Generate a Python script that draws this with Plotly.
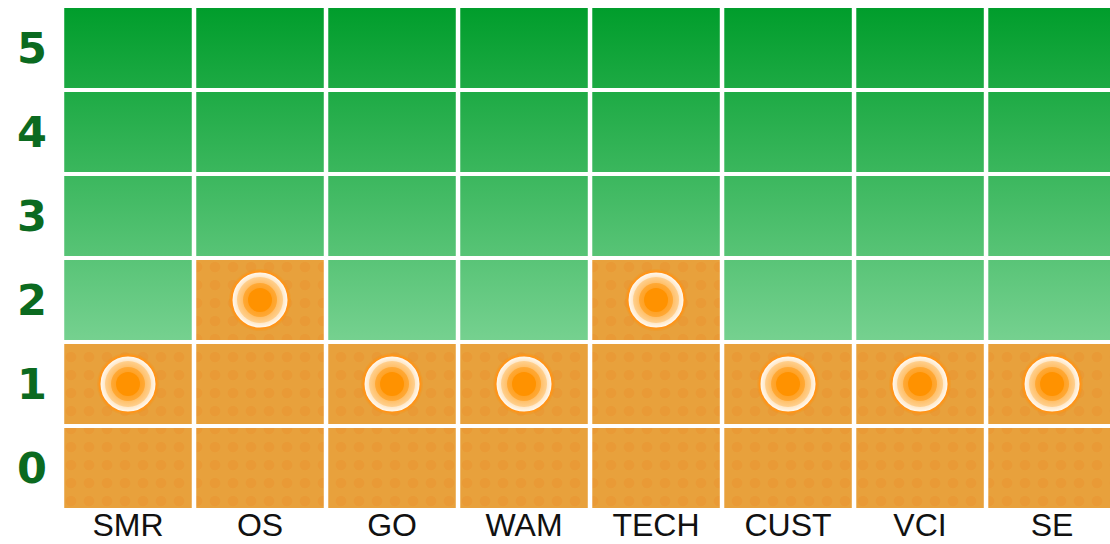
import plotly.graph_objects as go

# ---- data ----
categories = ["SMR", "OS", "GO", "WAM", "TECH", "CUST", "VCI", "SE"]
scores = [1, 2, 1, 1, 2, 1, 1, 1]
levels = [0, 1, 2, 3, 4, 5]
level_labels = ["0", "1", "2", "3", "4", "5"]

# ---- styling ----
HW = 0.483   # half cell width (axis units)
HH = 0.476   # half cell height (axis units)
ORANGE_BG = "#e8a13c"
ORANGE_DOT = "#ea932f"
GREEN_LOW = "#76d190"
GREEN_HIGH = "#009d2b"
DOT_ORANGE = "#ff9200"

x_idx = list(range(len(categories)))

def rect(cx, cy):
    return ([cx - HW, cx + HW, cx + HW, cx - HW, cx - HW, None],
            [cy - HH, cy - HH, cy + HH, cy + HH, cy - HH, None])

ox, oy, gx, gy = [], [], [], []
for i, s in zip(x_idx, scores):
    for lv in levels:
        xs, ys = rect(i, lv)
        if lv <= s:
            ox += xs; oy += ys
        else:
            gx += xs; gy += ys

fig = go.Figure()

fig.add_trace(go.Scatter(
    x=gx, y=gy, mode="lines", fill="toself", line=dict(width=0),
    fillgradient=dict(type="vertical", start=min(levels) + 1.5, stop=max(levels) + 0.5,
                      colorscale=[[0, GREEN_LOW], [1, GREEN_HIGH]]),
    hoverinfo="skip", showlegend=False))

fig.add_trace(go.Scatter(
    x=ox, y=oy, mode="lines", fill="toself", line=dict(width=0),
    fillcolor=ORANGE_BG,
    fillpattern=dict(shape=".", bgcolor=ORANGE_BG, fgcolor=ORANGE_DOT,
                     size=18, solidity=0.28),
    hoverinfo="skip", showlegend=False))

bubble_layers = [
    dict(size=62, color="rgba(255,140,0,0.20)", line=dict(width=0)),
    dict(size=57, color="#fffcf7", gradient=dict(type="radial", color=DOT_ORANGE),
         line=dict(width=2, color="#ff9418")),
    dict(size=46, color="#ffd08f", gradient=dict(type="radial", color=DOT_ORANGE),
         line=dict(width=0)),
    dict(size=34, color="#ffa936", gradient=dict(type="radial", color=DOT_ORANGE),
         line=dict(width=0)),
    dict(size=24, color=DOT_ORANGE, line=dict(width=0)),
]
for mk in bubble_layers:
    fig.add_trace(go.Scatter(x=x_idx, y=scores, mode="markers", marker=mk,
                             hoverinfo="skip", showlegend=False))

fig.update_layout(
    width=1110, height=544,
    margin=dict(l=62, r=0, t=6, b=34),
    paper_bgcolor="white", plot_bgcolor="white",
    xaxis=dict(range=[-0.5, 7.439], tickvals=x_idx, ticktext=categories,
               showgrid=False, zeroline=False, showline=False, ticks="",
               automargin=False, ticklabelstandoff=-7,
               tickfont=dict(family="Liberation Sans, Arial, sans-serif", size=32, color="#111111"),
               fixedrange=True),
    yaxis=dict(range=[-0.5, 5.5], tickvals=levels, ticktext=level_labels,
               showgrid=False, zeroline=False, showline=False, ticks="",
               automargin=False, ticklabelstandoff=14,
               tickfont=dict(family="DejaVu Sans, sans-serif", size=43, color="#0b6a20",
                             weight=900),
               fixedrange=True),
)

fig.write_html("out.html", config={"displayModeBar": False},
               post_script="document.body.style.margin='0';")
